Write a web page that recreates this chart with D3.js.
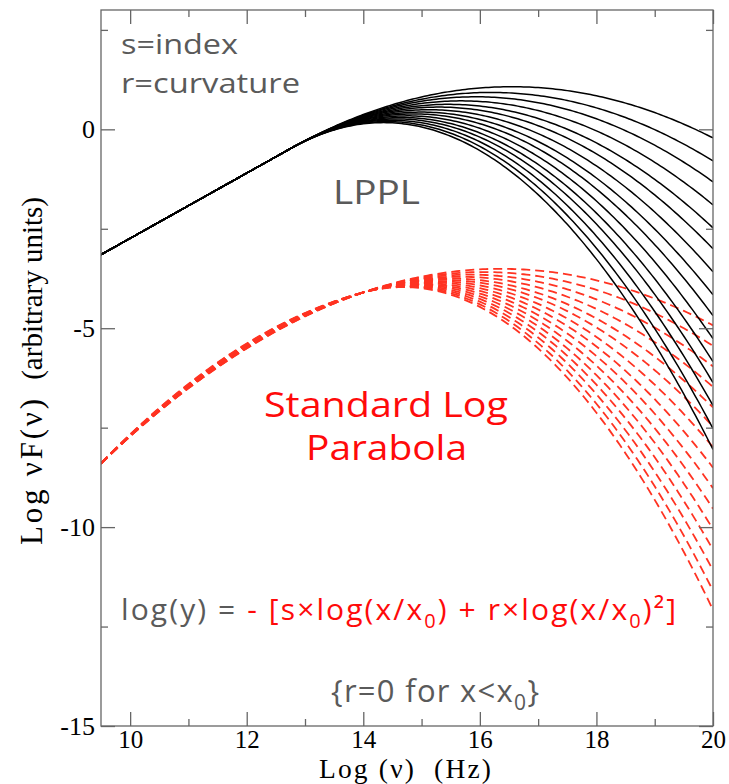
<!DOCTYPE html>
<html>
<head>
<meta charset="utf-8">
<script src="https://cdn.jsdelivr.net/npm/d3@7"></script>
<style>
  body { margin: 0; background: #fff; }
  svg { display: block; }
</style>
</head>
<body>
<svg id="chart" width="729" height="784"></svg>
<script>
// ---- Model parameters (one entry per curve) ----
// LPPL: power law below the pivot (r = 0), log-parabola above
const lpplPivot = 12.75;     // log x0
const lpplLevel = -0.485;    // log vF(v) at x0
const lpplIndex = -0.82;     // s
const lpplCurvature = [0.108, 0.119, 0.129, 0.140, 0.151, 0.161, 0.172, 0.183,
                       0.193, 0.204, 0.215, 0.225, 0.236, 0.247, 0.257];

// Standard log-parabola family
const lpPivot = 14.0;
const lpLevel = -4.10;
const lpIndex = [-0.504, -0.496, -0.488, -0.480, -0.472, -0.464, -0.456, -0.448,
                 -0.440, -0.432, -0.424, -0.416, -0.408, -0.400, -0.392];
const lpLowCurvature = [0.100, 0.102, 0.104, 0.106, 0.107, 0.109, 0.111, 0.113,
                        0.115, 0.116, 0.118, 0.120, 0.122, 0.124, 0.125];
const lpCurvature = [0.107, 0.120, 0.133, 0.146, 0.159, 0.171, 0.184, 0.197,
                     0.210, 0.223, 0.236, 0.249, 0.262, 0.275, 0.287];

// ---- Axes ----
const xDomain = [9.5, 20];
const yDomain = [-15, 3];
const xMajor = [10, 12, 14, 16, 18, 20];
const xMinor = [11, 13, 15, 17, 19];
const yMajor = [0, -5, -10, -15];
const yMinor = [2.5, -2.5, -7.5, -12.5];

const frame = { left: 101, right: 713, top: 10, bottom: 726 };
const svg = d3.select("#chart");

const x = d3.scaleLinear().domain(xDomain).range([frame.left, frame.right]);
const y = d3.scaleLinear().domain(yDomain).range([frame.bottom, frame.top]);

// log(y) = -[s*L + r*L^2], L = log(x/x0); the curvature may differ below x0
function logParabola(logNu, x0, level, s, rBelow, rAbove) {
  const L = logNu - x0;
  const r = L < 0 ? rBelow : rAbove;
  return level - (s * L + r * L * L);
}

const grid = d3.range(0, 211).map(i => 9.5 + i * 0.05);
const line = d3.line().x(d => x(d[0])).y(d => y(d[1]));

svg.append("clipPath").attr("id", "plot-clip")
  .append("rect")
  .attr("x", frame.left).attr("y", frame.top)
  .attr("width", frame.right - frame.left).attr("height", frame.bottom - frame.top);

const curves = svg.append("g").attr("clip-path", "url(#plot-clip)");

// standard log-parabola spectra (dashed red)
lpCurvature.forEach((r, i) => {
  const pts = grid.map(v => [v, logParabola(v, lpPivot, lpLevel, lpIndex[i], lpLowCurvature[i], r)]);
  curves.append("path")
    .attr("d", line(pts))
    .attr("fill", "none")
    .attr("stroke", "#ff3322")
    .attr("stroke-width", 1.8)
    .attr("stroke-dasharray", "9,5");
});

// LPPL spectra (solid black)
lpplCurvature.forEach(r => {
  const pts = grid.map(v => [v, logParabola(v, lpplPivot, lpplLevel, lpplIndex, 0, r)]);
  curves.append("path")
    .attr("d", line(pts))
    .attr("fill", "none")
    .attr("stroke", "#000")
    .attr("stroke-width", 1.5);
});

// ---- Frame and ticks (inward, on all four sides) ----
const axisColor = "#666";
const serif = "'Liberation Serif', 'Times New Roman', serif";

function styleAxis(g, size) {
  g.select(".domain").remove();
  g.selectAll(".tick line").attr("stroke", axisColor).attr("stroke-width", 1.3);
  g.selectAll(".tick text")
    .attr("fill", "#000")
    .style("font-family", serif)
    .style("font-size", (size || 26) + "px");
}

const fmt = d => String(d);

// bottom
svg.append("g").attr("transform", `translate(0,${frame.bottom})`)
  .call(d3.axisBottom(x).tickValues(xMajor).tickSize(-14).tickPadding(4).tickFormat(fmt))
  .call(g => styleAxis(g, 25));
svg.append("g").attr("transform", `translate(0,${frame.bottom})`)
  .call(d3.axisBottom(x).tickValues(xMinor).tickSize(-7).tickFormat(""))
  .call(styleAxis);
// top
svg.append("g").attr("transform", `translate(0,${frame.top})`)
  .call(d3.axisTop(x).tickValues(xMajor).tickSize(-14).tickFormat(""))
  .call(styleAxis);
svg.append("g").attr("transform", `translate(0,${frame.top})`)
  .call(d3.axisTop(x).tickValues(xMinor).tickSize(-7).tickFormat(""))
  .call(styleAxis);
// left
svg.append("g").attr("transform", `translate(${frame.left},0)`)
  .call(d3.axisLeft(y).tickValues(yMajor).tickSize(-14).tickPadding(6).tickFormat(fmt))
  .call(styleAxis);
svg.append("g").attr("transform", `translate(${frame.left},0)`)
  .call(d3.axisLeft(y).tickValues(yMinor).tickSize(-7).tickFormat(""))
  .call(styleAxis);
// right
svg.append("g").attr("transform", `translate(${frame.right},0)`)
  .call(d3.axisRight(y).tickValues(yMajor).tickSize(-14).tickFormat(""))
  .call(styleAxis);
svg.append("g").attr("transform", `translate(${frame.right},0)`)
  .call(d3.axisRight(y).tickValues(yMinor).tickSize(-7).tickFormat(""))
  .call(styleAxis);

svg.append("rect")
  .attr("x", frame.left).attr("y", frame.top)
  .attr("width", frame.right - frame.left).attr("height", frame.bottom - frame.top)
  .attr("fill", "none").attr("stroke", axisColor).attr("stroke-width", 1.3);

// ---- Axis titles ----
svg.append("text")
  .attr("x", 405).attr("y", 778)
  .attr("text-anchor", "middle")
  .style("font-family", serif).style("font-size", "27.5px").style("white-space", "pre")
  .attr("textLength", 172).attr("lengthAdjust", "spacing")
  .text("Log (ν)  (Hz)");

svg.append("text")
  .attr("transform", "translate(42,545) rotate(-90)")
  .attr("text-anchor", "start")
  .style("font-family", serif).style("font-size", "31px").style("white-space", "pre")
  .attr("textLength", 146).attr("lengthAdjust", "spacing")
  .text("Log νF(ν)");
svg.append("text")
  .attr("transform", "translate(42,197) rotate(-90)")
  .attr("text-anchor", "end")
  .style("font-family", serif).style("font-size", "29px")
  .text("(arbitrary units)");

// ---- Annotations ----
const sans = "'Open Sans', 'Noto Sans', sans-serif";
const grey = "#5a5a5a";
const red = "#ff0a0a";

function label(txt, xPos, yPos, size, color, width) {
  const t = svg.append("text")
    .attr("x", xPos).attr("y", yPos)
    .attr("fill", color)
    .style("font-family", sans).style("font-size", size + "px")
    .text(txt);
  if (width) t.attr("textLength", width).attr("lengthAdjust", "spacingAndGlyphs");
  return t;
}

label("s=index", 121, 54, 28, grey, 117);
label("r=curvature", 121, 93, 28, grey, 179);
label("LPPL", 333, 204, 33, grey, 87);
label("Standard Log", 264, 417, 35, red, 244);
label("Parabola", 306, 460, 35, red, 161);

// formula line
const f = svg.append("text")
  .attr("x", 121).attr("y", 620)
  .style("font-family", sans).style("font-size", "30px")
  .attr("textLength", 555).attr("lengthAdjust", "spacing");
f.append("tspan").attr("fill", grey).text("log(y) = ");
f.append("tspan").attr("fill", red).text("- [s×log(x/x");
f.append("tspan").attr("fill", red).attr("dy", 8).style("font-size", "20px").text("0");
f.append("tspan").attr("fill", red).attr("dy", -8).text(") + r×log(x/x");
f.append("tspan").attr("fill", red).attr("dy", 8).style("font-size", "20px").text("0");
f.append("tspan").attr("fill", red).attr("dy", -8).text(")²]");

const c = svg.append("text")
  .attr("x", 331).attr("y", 702)
  .attr("fill", grey)
  .style("font-family", sans).style("font-size", "31px")
  .attr("textLength", 208).attr("lengthAdjust", "spacing");
c.append("tspan").text("{r=0 for x<x");
c.append("tspan").attr("dy", 8).style("font-size", "21px").text("0");
c.append("tspan").attr("dy", -8).text("}");
</script>
</body>
</html>
